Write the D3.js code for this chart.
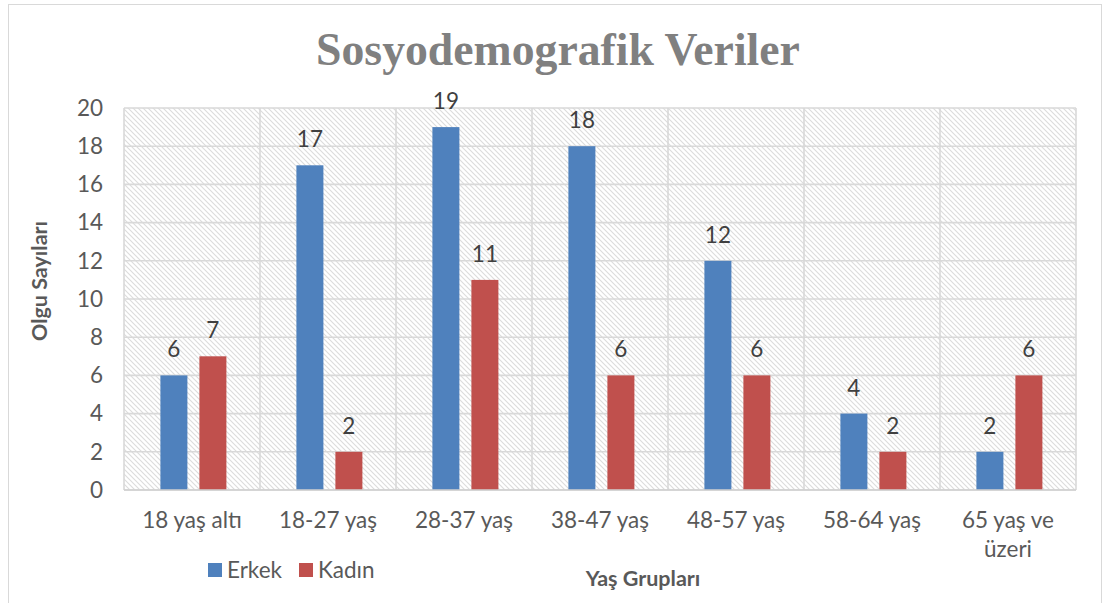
<!DOCTYPE html>
<html>
<head>
<meta charset="utf-8">
<script src="https://cdn.jsdelivr.net/npm/d3@7"></script>
<style>
  html, body { margin: 0; padding: 0; background: #fff; }
  svg { display: block; }
</style>
</head>
<body>
<svg id="chart" width="1105" height="603"></svg>
<script>
// ---- data ----
const categories = ["18 yaş altı", "18-27 yaş", "28-37 yaş", "38-47 yaş", "48-57 yaş", "58-64 yaş", "65 yaş ve üzeri"];
const seriesNames = ["Erkek", "Kadın"];
const erkekValues = [6, 17, 19, 18, 12, 4, 2];
const kadinValues = [7, 2, 11, 6, 6, 2, 6];
const yTicks = [0, 2, 4, 6, 8, 10, 12, 14, 16, 18, 20];
const titleText = "Sosyodemografik Veriler";
const yTitle = "Olgu Sayıları";
const xTitle = "Yaş Grupları";

const seriesValues = { "Erkek": erkekValues, "Kadın": kadinValues };
const colors = { "Erkek": "#4f81bd", "Kadın": "#c0504d" };

const svg = d3.select("#chart");
const font = "Lato, 'Open Sans', sans-serif";
const textColor = "#595959";
const gridColor = "#d9d9d9";
const fs = 22.5;

const plot = { left: 124, top: 108, right: 1076, bottom: 490 };

// outer border
svg.append("rect").attr("x", 8.5).attr("y", 4.5).attr("width", 1093).attr("height", 610)
  .attr("fill", "#fff").attr("stroke", gridColor).attr("stroke-width", 1);

// hatch pattern
const defs = svg.append("defs");
const pat = defs.append("pattern").attr("id", "hatch").attr("patternUnits", "userSpaceOnUse")
  .attr("width", 5).attr("height", 5);
pat.append("rect").attr("width", 5).attr("height", 5).attr("fill", "#ffffff");
pat.append("path").attr("d", "M-1,-1 L6,6 M-1,4 L1,6 M4,-1 L6,1")
  .attr("stroke", "#dcdcdc").attr("stroke-width", 1.1);

const x = d3.scaleBand().domain(categories).range([plot.left, plot.right]).padding(0);
const xs = d3.scaleBand().domain(seriesNames).range([0, x.bandwidth()])
  .paddingInner(12 / 39).paddingOuter(35 / 39).align(0.52);
const y = d3.scaleLinear().domain([0, 20]).range([plot.bottom, plot.top]);

// plot background
svg.append("rect").attr("x", plot.left).attr("y", plot.top)
  .attr("width", plot.right - plot.left).attr("height", plot.bottom - plot.top)
  .attr("fill", "url(#hatch)");

// horizontal gridlines
svg.append("g").selectAll("line").data(yTicks).join("line")
  .attr("x1", plot.left).attr("x2", plot.right)
  .attr("y1", d => y(d)).attr("y2", d => y(d))
  .attr("stroke", gridColor).attr("stroke-width", 1.6);

// vertical gridlines (category boundaries)
const bounds = categories.map(c => x(c)).concat([plot.right]);
svg.append("g").selectAll("line").data(bounds).join("line")
  .attr("x1", d => d).attr("x2", d => d)
  .attr("y1", plot.top).attr("y2", plot.bottom)
  .attr("stroke", gridColor).attr("stroke-width", 1.6);

// bars
const barData = [];
categories.forEach((c, i) => seriesNames.forEach(s => barData.push({ c, s, v: seriesValues[s][i] })));
svg.append("g").selectAll("rect").data(barData).join("rect")
  .attr("x", d => x(d.c) + xs(d.s))
  .attr("width", xs.bandwidth())
  .attr("y", d => y(d.v))
  .attr("height", d => y(0) - y(d.v))
  .attr("fill", d => colors[d.s]);

// bottom axis line
svg.append("line").attr("x1", plot.left).attr("x2", plot.right)
  .attr("y1", plot.bottom).attr("y2", plot.bottom)
  .attr("stroke", "#d0d0d0").attr("stroke-width", 1.6);

// data labels
svg.append("g").selectAll("text").data(barData).join("text")
  .attr("x", d => x(d.c) + xs(d.s) + xs.bandwidth() / 2)
  .attr("y", d => y(d.v) - 18)
  .attr("text-anchor", "middle")
  .attr("font-family", font).attr("font-size", fs).attr("fill", "#404040")
  .text(d => d.v);

// y axis
const yAxis = d3.axisLeft(y).tickValues(yTicks).tickSize(0).tickPadding(21);
const yg = svg.append("g").attr("transform", `translate(${plot.left},0)`).call(yAxis);
yg.select(".domain").remove();
yg.selectAll("text").attr("font-family", font).attr("font-size", fs).attr("fill", textColor);

// x axis
const xAxis = d3.axisBottom(x).tickSize(0).tickPadding(0);
const xg = svg.append("g").attr("transform", `translate(0,${plot.bottom})`).call(xAxis);
xg.select(".domain").remove();
xg.selectAll("text").attr("font-family", font).attr("font-size", fs).attr("fill", textColor)
  .attr("dy", null).attr("y", 38)
  .each(function (d) {
    const t = d3.select(this);
    const words = d.split(" ");
    t.text(null);
    let line = [];
    let lineNo = 0;
    let tspan = t.append("tspan").attr("x", 0).attr("y", 38);
    words.forEach(w => {
      line.push(w);
      tspan.text(line.join(" "));
      if (tspan.node().getComputedTextLength() > 128 && line.length > 1) {
        line.pop();
        tspan.text(line.join(" "));
        line = [w];
        lineNo++;
        tspan = t.append("tspan").attr("x", 0).attr("y", 38 + lineNo * 29).text(w);
      }
    });
  });

// title
const title = svg.append("text")
  .attr("x", 558).attr("y", 65).attr("text-anchor", "middle")
  .attr("font-family", "'Liberation Serif', 'DejaVu Serif', serif")
  .attr("font-weight", "bold").attr("font-size", 44).attr("fill", "#808080")
  .text(titleText);
const tw = title.node().getComputedTextLength();
title.attr("font-size", 44 * 484 / tw);

// y title
svg.append("text")
  .attr("transform", "translate(47,281) rotate(-90)")
  .attr("text-anchor", "middle")
  .attr("font-family", font).attr("font-weight", "bold").attr("font-size", 21.5).attr("fill", textColor)
  .text(yTitle);

// x title
svg.append("text")
  .attr("x", 643).attr("y", 586).attr("text-anchor", "middle")
  .attr("font-family", font).attr("font-weight", "bold").attr("font-size", 21.5).attr("fill", textColor)
  .text(xTitle);

// legend
const legend = svg.append("g");
const legendX = [208, 299];
seriesNames.forEach((s, i) => {
  const g = legend.append("g").attr("transform", `translate(${legendX[i]},563)`);
  g.append("rect").attr("width", 14).attr("height", 14).attr("fill", colors[s]);
  g.append("text").attr("x", 19).attr("y", 15).attr("font-family", font)
    .attr("font-size", fs).attr("fill", textColor).text(s);
});
</script>
</body>
</html>
